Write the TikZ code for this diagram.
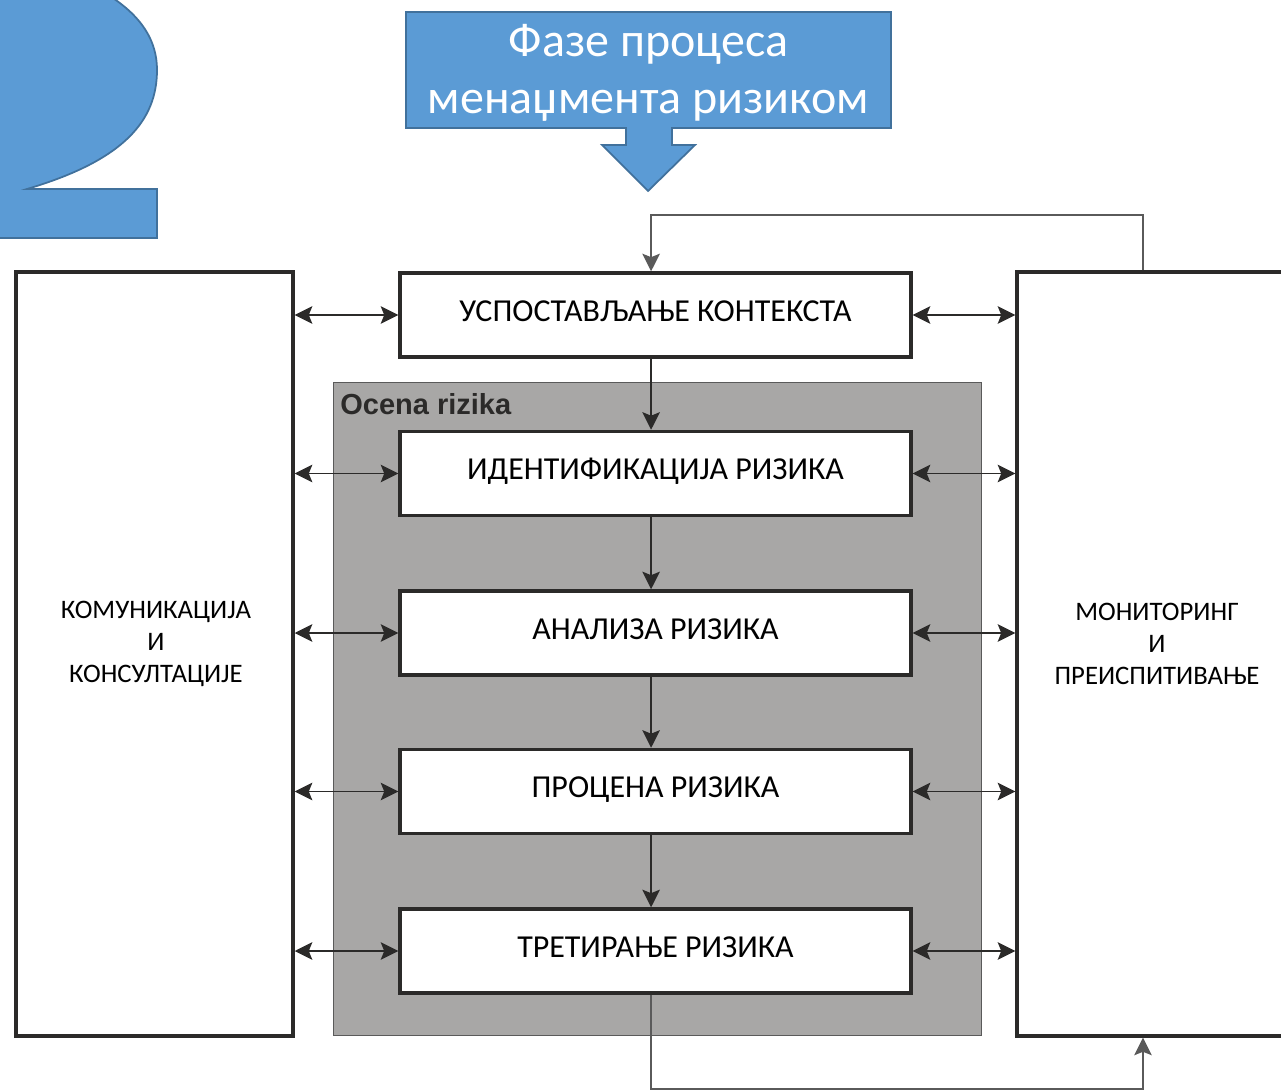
\documentclass[tikz,border=0pt]{standalone}
\usepackage{fontspec}
\setmainfont{Carlito}
\newfontfamily\arialfont{Liberation Sans}
\usetikzlibrary{arrows.meta,positioning,calc}
\definecolor{plava}{HTML}{5B9BD5}
\definecolor{plavaivica}{HTML}{41719C}
\definecolor{siva}{HTML}{A8A7A6}
\definecolor{linija}{HTML}{2B2A29}
\definecolor{tanka}{HTML}{5A5A5A}

\tikzset{
  fazabox/.style={draw=linija, line width=2pt, fill=white, inner sep=0pt,
    minimum width=10.22cm, minimum height=1.68cm,
    font=\fontsize{18.2}{21}\selectfont, text height=11.5pt, text depth=4.3pt},
  stranabox/.style={draw=linija, line width=2pt, fill=white, inner sep=0pt,
    minimum height=15.28cm},
  stranatekst/.style={align=center, font=\fontsize{15.2}{18.2}\selectfont},
  dvostr/.style={{Stealth[length=10pt,width=10pt,inset=2pt]}-{Stealth[length=10pt,width=10pt,inset=2pt]},
    line width=1.1pt, draw=linija},
  tok/.style={-{Stealth[length=10pt,width=10pt,inset=2pt]}, line width=1.1pt, draw=linija},
  povratna/.style={-{Stealth[length=10pt,width=10pt,inset=2pt]}, line width=0.8pt, draw=tanka}
}

\begin{document}
\begin{tikzpicture}[x=0.02cm,y=-0.02cm]
\useasboundingbox (0,0) rectangle (1281,1091);
\clip (0,0) rectangle (1281,1091);
% the big blue 2
\filldraw[fill=plava, draw=plavaivica, line width=1pt] (-10,-10) -- (100,-10)
  .. controls (135,10) and (157,35) .. (157,70)
  .. controls (157,120) and (125,160) .. (27,189)
  -- (157,189) -- (157,238) -- (-10,238) -- cycle;
% title callout
\filldraw[fill=plava, draw=plavaivica, line width=1pt] (406,12) -- (891,12) -- (891,128)
  -- (672,128) -- (672,145) -- (695,145) -- (648,191) -- (602,145) -- (626,145)
  -- (626,128) -- (406,128) -- cycle;
\node[align=center, text=white, font=\fontsize{27.3}{32.4}\selectfont] (naslov) at (648.5,73)
  {Фазе процеса\\менаџмента ризиком};
% assessment area
\node[draw=tanka, line width=0.6pt, fill=siva, minimum width=12.98cm, minimum height=13.08cm] (ocena) at (657.5,709) {};
\node[anchor=north west, inner sep=0pt, text=linija, font=\arialfont\bfseries\fontsize{16.5}{18}\selectfont] (ocenanaslov) at (340,393) {Ocena rizika};
% side boxes
\node[stranabox, minimum width=5.54cm] (komunikacija) at (154.5,654) {};
\node[stranatekst] (komtekst) at (156,644) {КОМУНИКАЦИЈА\\И\\КОНСУЛТАЦИЈЕ};
\node[stranabox, minimum width=5.66cm] (monitoring) at (1158.5,654) {};
\node[stranatekst] (montekst) at (1157,644) {МОНИТОРИНГ\\И\\ПРЕИСПИТИВАЊЕ};
% phases
\node[fazabox] (ustav) at (655.5,315) {УСПОСТАВЉАЊЕ КОНТЕКСТА};
\node[fazabox] (ident) at (655.5,473.5) {ИДЕНТИФИКАЦИЈА РИЗИКА};
\node[fazabox] (analiza) at (655.5,633) {АНАЛИЗА РИЗИКА};
\node[fazabox] (procena) at (655.5,791.5) {ПРОЦЕНА РИЗИКА};
\node[fazabox] (tretiranje) at (655.5,951) {ТРЕТИРАЊЕ РИЗИКА};
% flow
\draw[tok] ([xshift=-2.5pt]ustav.south) -- ([xshift=-2.5pt]ident.north);
\draw[tok] ([xshift=-2.5pt]ident.south) -- ([xshift=-2.5pt]analiza.north);
\draw[tok] ([xshift=-2.5pt]analiza.south) -- ([xshift=-2.5pt]procena.north);
\draw[tok] ([xshift=-2.5pt]procena.south) -- ([xshift=-2.5pt]tretiranje.north);
% communication and monitoring
\draw[dvostr] (komunikacija.east |- ustav.west) -- (ustav.west);
\draw[dvostr] (komunikacija.east |- ident.west) -- (ident.west);
\draw[dvostr] (komunikacija.east |- analiza.west) -- (analiza.west);
\draw[dvostr] (komunikacija.east |- procena.west) -- (procena.west);
\draw[dvostr] (komunikacija.east |- tretiranje.west) -- (tretiranje.west);
\draw[dvostr] (ustav.east) -- (monitoring.west |- ustav.east);
\draw[dvostr] (ident.east) -- (monitoring.west |- ident.east);
\draw[dvostr] (analiza.east) -- (monitoring.west |- analiza.east);
\draw[dvostr] (procena.east) -- (monitoring.west |- procena.east);
\draw[dvostr] (tretiranje.east) -- (monitoring.west |- tretiranje.east);
% feedback
\coordinate (gore) at (1143,215);
\coordinate (dole) at (1143,1089);
\draw[povratna] (gore |- monitoring.north) -- (gore) -| ([xshift=-2.5pt]ustav.north);
\draw[povratna] ([xshift=-2.5pt]tretiranje.south) |- (dole) -- (dole |- monitoring.south);
\end{tikzpicture}
\end{document}
